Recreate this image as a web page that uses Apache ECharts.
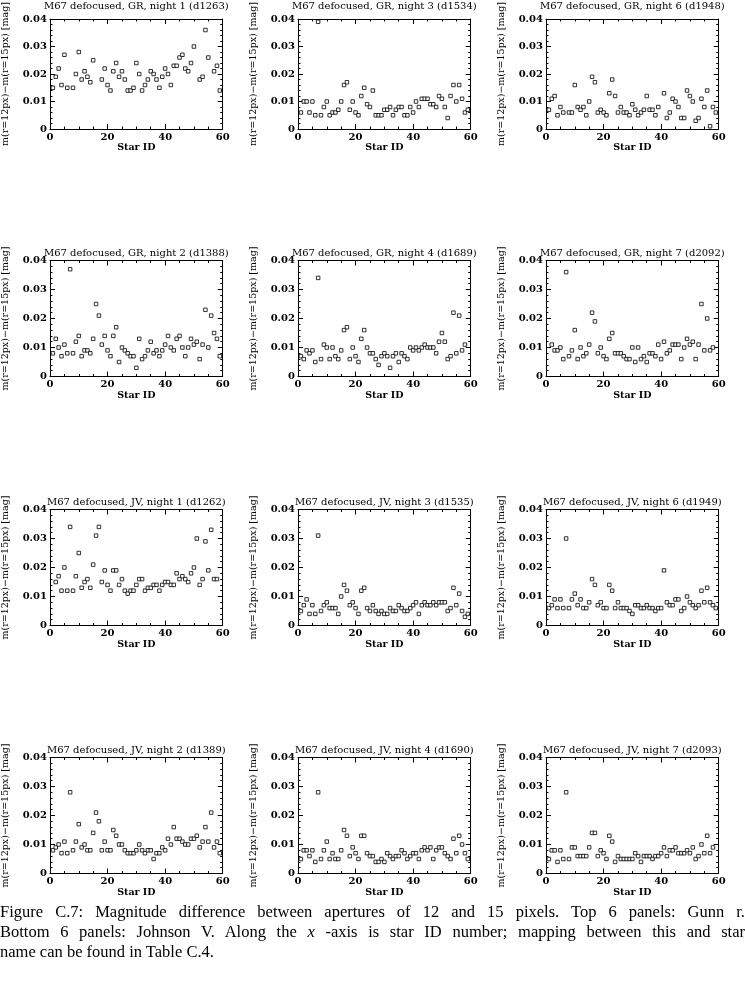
<!DOCTYPE html>
<html>
<head>
<meta charset="utf-8">
<script src="https://cdn.jsdelivr.net/npm/echarts@6/dist/echarts.min.js"></script>
<style>
  body { margin: 0; background: #fff; }
  #chart { width: 745px; height: 986px; }
  #caption { position: absolute; left: 0; top: 902px; width: 745px; font-family: 'Liberation Serif', serif; font-size: 16.5px; line-height: 20px; color: #000; }
  #caption div { text-align: justify; text-align-last: justify; white-space: nowrap; }
  #caption div.last { text-align-last: left; }
</style>
</head>
<body>
<div id="chart"></div>
<div id="caption">
  <div>Figure C.7: Magnitude difference between apertures of 12 and 15 pixels. Top 6 panels: Gunn r.</div>
  <div>Bottom 6 panels: Johnson V. Along the <i>x</i> -axis is star ID number; mapping between this and star</div>
  <div class="last">name can be found in Table C.4.</div>
</div>
<script>
// star ID numbers along the x axis
const starIds = [1, 2, 3, 4, 5, 6, 7, 8, 9, 10, 11, 12, 13, 14, 15, 16, 17, 18, 19, 20,
  21, 22, 23, 24, 25, 26, 27, 28, 29, 30, 31, 32, 33, 34, 35, 36, 37, 38, 39, 40,
  41, 42, 43, 44, 45, 46, 47, 48, 49, 50, 51, 52, 53, 54, 55, 56, 57, 58, 59];

const xTicks = [0, 20, 40, 60];
const yTicks = [0, 0.01, 0.02, 0.03, 0.04];

// m(r=12px) - m(r=15px), one value per star, null = no point
const grNight1 = [0.015, 0.019, 0.022, 0.016, 0.027, 0.015, null, 0.015, 0.020, 0.028,
  0.018, 0.021, 0.019, 0.017, 0.025, null, null, 0.018, 0.022, 0.016,
  0.014, 0.021, 0.024, 0.019, 0.021, 0.018, 0.014, 0.014, 0.015, 0.024,
  0.020, 0.014, 0.016, 0.018, 0.021, 0.020, 0.018, 0.015, 0.019, 0.022,
  0.020, 0.016, 0.023, 0.023, 0.026, 0.027, 0.022, 0.021, 0.024, 0.030,
  null, 0.018, 0.019, 0.036, 0.026, null, 0.021, 0.023, 0.014];
const grNight3 = [0.006, 0.010, 0.010, 0.006, 0.010, 0.005, 0.039, 0.005, 0.008, 0.010,
  0.005, 0.006, 0.006, 0.007, 0.010, 0.016, 0.017, 0.007, 0.010, 0.006,
  0.005, 0.012, 0.015, 0.009, 0.008, 0.014, 0.005, 0.005, 0.005, 0.007,
  0.007, 0.008, 0.005, 0.007, 0.008, 0.008, 0.005, 0.005, 0.008, 0.006,
  0.010, 0.008, 0.011, 0.011, 0.011, 0.009, 0.009, 0.008, 0.012, 0.011,
  0.008, 0.004, 0.012, 0.016, 0.010, 0.016, 0.011, 0.006, 0.007];
const grNight6 = [0.007, 0.011, 0.012, 0.005, 0.008, 0.006, null, 0.006, 0.006, 0.016,
  0.008, 0.007, 0.008, 0.005, 0.010, 0.019, 0.017, 0.006, 0.007, 0.006,
  0.005, 0.013, 0.018, 0.012, 0.006, 0.008, 0.006, 0.006, 0.005, 0.009,
  0.007, 0.005, 0.006, 0.007, 0.012, 0.007, 0.007, 0.005, 0.008, null,
  0.013, 0.004, 0.006, 0.011, 0.010, 0.008, 0.004, 0.004, 0.014, 0.012,
  0.010, 0.003, 0.004, 0.011, 0.008, 0.014, 0.001, 0.008, 0.006];
const grNight2 = [0.008, 0.013, 0.010, 0.007, 0.011, 0.008, 0.037, 0.008, 0.012, 0.014,
  0.007, 0.009, 0.009, 0.008, 0.013, 0.025, 0.021, 0.011, 0.014, 0.009,
  0.007, 0.014, 0.017, 0.005, 0.010, 0.009, 0.008, 0.007, 0.007, 0.003,
  0.013, 0.006, 0.007, 0.009, 0.012, 0.008, 0.009, 0.007, 0.009, 0.011,
  0.014, 0.010, 0.009, 0.013, 0.014, 0.010, 0.007, 0.010, 0.013, 0.011,
  0.012, 0.006, 0.011, 0.023, 0.010, 0.021, 0.015, 0.013, 0.007];
const grNight4 = [0.007, 0.006, 0.009, 0.008, 0.009, 0.005, 0.034, 0.006, 0.011, 0.010,
  0.006, 0.010, 0.007, 0.006, 0.009, 0.016, 0.017, 0.006, 0.010, 0.007,
  0.005, 0.013, 0.016, 0.010, 0.008, 0.008, 0.006, 0.004, 0.007, 0.008,
  0.007, 0.003, 0.007, 0.008, 0.005, 0.008, 0.007, 0.006, 0.010, 0.009,
  0.010, 0.009, 0.010, 0.011, 0.010, 0.010, 0.010, 0.008, 0.012, 0.015,
  0.012, 0.006, 0.007, 0.022, 0.008, 0.021, 0.009, 0.011, null];
const grNight7 = [null, 0.011, 0.009, 0.009, 0.010, 0.006, 0.036, 0.007, 0.009, 0.016,
  0.006, 0.010, 0.007, 0.008, 0.011, 0.022, 0.019, 0.008, 0.010, 0.007,
  0.006, 0.013, 0.015, 0.008, 0.008, 0.008, 0.007, 0.006, 0.006, 0.010,
  0.005, 0.010, 0.006, 0.007, 0.005, 0.008, 0.008, 0.007, 0.011, 0.006,
  0.012, 0.008, 0.009, 0.011, 0.011, 0.011, 0.006, 0.010, 0.013, 0.011,
  0.012, 0.006, 0.011, 0.025, 0.009, 0.020, 0.009, 0.010, null];
const jvNight1 = [null, 0.015, 0.017, 0.012, 0.020, 0.012, 0.034, 0.012, 0.017, 0.025,
  0.013, 0.015, 0.016, 0.013, 0.021, 0.031, 0.034, 0.015, 0.019, 0.014,
  0.012, 0.019, 0.019, 0.014, 0.016, 0.012, 0.011, 0.012, 0.012, 0.014,
  0.016, 0.016, 0.012, 0.013, 0.013, 0.014, 0.014, 0.012, 0.014, 0.015,
  0.015, 0.014, 0.014, 0.018, 0.016, 0.017, 0.016, 0.015, 0.018, 0.020,
  0.030, 0.014, 0.016, 0.029, 0.019, 0.033, 0.016, 0.016, null];
const jvNight3 = [0.005, 0.007, 0.009, 0.004, 0.007, 0.004, 0.031, 0.005, 0.007, 0.008,
  0.006, 0.006, 0.006, 0.004, 0.010, 0.014, 0.012, 0.007, 0.008, 0.006,
  0.004, 0.012, 0.013, 0.006, 0.005, 0.007, 0.005, 0.004, 0.005, 0.004,
  0.004, 0.006, 0.005, 0.005, 0.007, 0.006, 0.005, 0.005, 0.006, 0.007,
  0.008, 0.004, 0.007, 0.008, 0.007, 0.007, 0.008, 0.007, 0.008, 0.008,
  0.008, 0.005, 0.006, 0.013, 0.007, 0.011, 0.005, 0.003, 0.004];
const jvNight6 = [0.006, 0.007, 0.009, 0.006, 0.009, 0.006, 0.030, 0.006, 0.009, 0.011,
  0.007, 0.009, 0.006, 0.006, 0.008, 0.016, 0.014, 0.007, 0.008, 0.006,
  0.006, 0.014, 0.012, 0.006, 0.008, 0.006, 0.006, 0.006, 0.005, 0.004,
  0.007, 0.007, 0.006, 0.006, 0.007, 0.006, 0.006, 0.005, 0.006, 0.006,
  0.019, 0.008, 0.007, 0.007, 0.009, 0.009, 0.005, 0.006, 0.010, 0.008,
  0.007, 0.006, 0.007, 0.012, 0.008, 0.013, 0.008, 0.007, 0.006];
const jvNight2 = [0.008, 0.009, 0.010, 0.007, 0.011, 0.007, 0.028, 0.008, 0.011, 0.017,
  0.009, 0.010, 0.008, 0.008, 0.014, 0.021, 0.018, 0.008, 0.011, 0.008,
  0.008, 0.015, 0.013, 0.010, 0.010, 0.008, 0.007, 0.007, 0.007, 0.008,
  0.010, 0.008, 0.007, 0.008, 0.008, 0.005, 0.007, 0.007, 0.009, 0.008,
  0.012, 0.010, 0.016, 0.012, 0.012, 0.011, 0.010, 0.010, 0.012, 0.012,
  0.013, 0.009, 0.011, 0.016, 0.011, 0.021, 0.009, 0.011, 0.007];
const jvNight4 = [0.005, 0.008, 0.008, 0.006, 0.008, 0.004, 0.028, 0.005, 0.008, 0.011,
  0.005, 0.007, 0.005, 0.005, 0.008, 0.015, 0.013, 0.006, 0.009, 0.007,
  0.005, 0.013, 0.013, 0.007, 0.006, 0.006, 0.004, 0.004, 0.005, 0.004,
  0.007, 0.006, 0.005, 0.006, 0.006, 0.008, 0.007, 0.005, 0.006, 0.007,
  0.007, 0.005, 0.008, 0.009, 0.008, 0.009, 0.005, 0.008, 0.009, 0.009,
  0.007, 0.006, 0.005, 0.012, 0.007, 0.013, 0.010, 0.007, 0.005];
const jvNight7 = [0.005, 0.008, 0.008, 0.004, 0.008, 0.005, 0.028, 0.005, 0.009, 0.009,
  0.006, 0.006, 0.006, 0.006, 0.009, 0.014, 0.014, 0.006, 0.008, 0.007,
  0.005, 0.013, 0.011, 0.004, 0.006, 0.005, 0.005, 0.005, 0.005, 0.005,
  0.007, 0.006, 0.004, 0.006, 0.006, 0.006, 0.005, 0.006, 0.006, 0.007,
  0.009, 0.006, 0.008, 0.008, 0.009, 0.007, 0.007, 0.007, 0.008, 0.007,
  0.009, 0.005, 0.006, 0.010, 0.007, 0.013, 0.007, 0.009, null];

const panels = [
  { title: 'M67 defocused, GR, night 1 (d1263)', values: grNight1 },
  { title: 'M67 defocused, GR, night 3 (d1534)', values: grNight3 },
  { title: 'M67 defocused, GR, night 6 (d1948)', values: grNight6 },
  { title: 'M67 defocused, GR, night 2 (d1388)', values: grNight2 },
  { title: 'M67 defocused, GR, night 4 (d1689)', values: grNight4 },
  { title: 'M67 defocused, GR, night 7 (d2092)', values: grNight7 },
  { title: 'M67 defocused, JV, night 1 (d1262)', values: jvNight1 },
  { title: 'M67 defocused, JV, night 3 (d1535)', values: jvNight3 },
  { title: 'M67 defocused, JV, night 6 (d1949)', values: jvNight6 },
  { title: 'M67 defocused, JV, night 2 (d1389)', values: jvNight2 },
  { title: 'M67 defocused, JV, night 4 (d1690)', values: jvNight4 },
  { title: 'M67 defocused, JV, night 7 (d2093)', values: jvNight7 }
];

const colLeft = [50, 298, 546];
const rowTop = [13, 260.5, 509.5, 757.5];
const plotW = 172.7;
const plotH = 116;
const font = 'DejaVu Serif';

const chart = echarts.init(document.getElementById('chart'), null, { renderer: 'canvas' });

const grid = [];
const xAxis = [];
const yAxis = [];
const series = [];
const title = [];

function tickStyle(show) {
  return {
    axisLine: { show: true, onZero: false, lineStyle: { color: '#000', width: 1 } },
    axisTick: { show: true, inside: true, length: 5, lineStyle: { color: '#000' } },
    minorTick: { show: true, length: 2.5, lineStyle: { color: '#000' } },
    splitLine: { show: false },
    axisLabel: {
      show: show,
      color: '#000',
      fontFamily: font,
      fontWeight: 'bold',
      fontSize: 10
    }
  };
}

panels.forEach((p, i) => {
  const left = colLeft[i % 3];
  const top = rowTop[Math.floor(i / 3)];
  grid.push({ left: left, top: top, width: plotW, height: plotH, show: false });

  title.push({
    text: p.title,
    left: left + plotW / 2,
    top: Math.max(0, top - 12),
    padding: 0,
    textAlign: 'center',
    textStyle: { fontFamily: font, fontSize: 10, fontWeight: 'normal', color: '#000' }
  });

  const xBase = {
    type: 'value', gridIndex: i, min: 0, max: 60, interval: 20
  };
  const bottom = Object.assign({}, xBase, tickStyle(true), {
    position: 'bottom',
    name: 'Star ID',
    nameLocation: 'middle',
    nameGap: 14,
    nameTextStyle: { fontFamily: font, fontWeight: 'bold', fontSize: 9.5, color: '#000' }
  });
  bottom.axisLabel.margin = 3;
  bottom.minorTick.splitNumber = 4;
  const topAx = Object.assign({}, xBase, tickStyle(false), { position: 'top' });
  topAx.minorTick.splitNumber = 4;
  xAxis.push(bottom, topAx);

  const yBase = {
    type: 'value', gridIndex: i, min: 0, max: 0.04, interval: 0.01
  };
  const leftAx = Object.assign({}, yBase, tickStyle(true), {
    position: 'left',
    name: 'm(r=12px)\u2212m(r=15px) [mag]',
    nameLocation: 'middle',
    nameGap: 39,
    nameTextStyle: { fontFamily: font, fontSize: 9.5, color: '#000' }
  });
  leftAx.axisLabel.margin = 3;
  leftAx.axisLabel.formatter = (v) => (v === 0 ? '0' : v.toFixed(2));
  leftAx.minorTick.splitNumber = 5;
  const rightAx = Object.assign({}, yBase, tickStyle(false), { position: 'right' });
  rightAx.minorTick.splitNumber = 5;
  yAxis.push(leftAx, rightAx);

  const data = [];
  starIds.forEach((id, k) => {
    if (p.values[k] !== null) data.push([id, p.values[k]]);
  });
  series.push({
    type: 'scatter',
    xAxisIndex: i * 2,
    yAxisIndex: i * 2,
    symbol: 'rect',
    symbolSize: 3.5,
    itemStyle: { color: '#fff', borderColor: '#000', borderWidth: 1 },
    data: data
  });
});

chart.setOption({
  backgroundColor: '#fff',
  animation: false,
  title: title,
  grid: grid,
  xAxis: xAxis,
  yAxis: yAxis,
  series: series
});
</script>
</body>
</html>
